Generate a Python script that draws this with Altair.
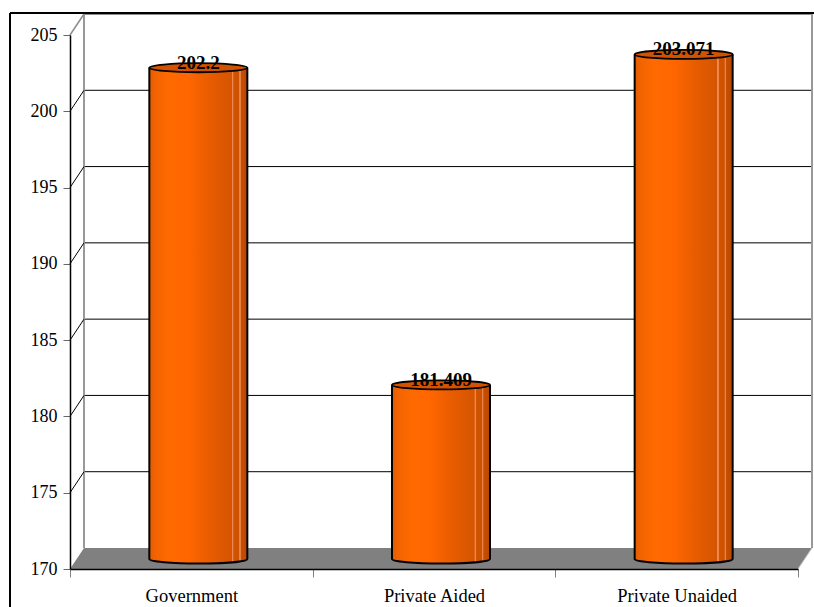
import altair as alt
import pandas as pd

# --- data -------------------------------------------------------------
categories = ["Government", "Private Aided", "Private Unaided"]
values = [202.2, 181.409, 203.071]
labels = ["202.2", "181.409", "203.071"]
y_ticks = [170, 175, 180, 185, 190, 195, 200, 205]

# --- geometry (pixels) ------------------------------------------------
W, H = 728, 534          # front plot area
DX, DY = 14, 21          # depth of the back wall
BAR_W = 98               # cylinder diameter
BX, BY = 7, -10          # cylinders stand half way into the depth
FONT = "Liberation Serif"

bars_df = pd.DataFrame({"category": categories, "value": values, "label": labels})
grid_df = pd.DataFrame({"tick": y_ticks[1:-1]})
edge_df = pd.DataFrame({"tick": [y_ticks[-1]]})
floor_df = pd.DataFrame({
    "px": [0, DX, W, W + DX],
    "top": [H, H - DY, H - DY, H - DY],
    "bot": [H, H, H, H - DY],
})

yscale = alt.Scale(domain=[y_ticks[0], y_ticks[-1]], nice=False, zero=False)
xscale = alt.Scale(paddingInner=0, paddingOuter=0)

y_axis = alt.Axis(
    values=y_ticks, labelFont=FONT, labelFontSize=18, labelColor="black",
    labelPadding=6, tickSize=7, tickColor="#666666", domainColor="black",
    domainWidth=1.5, grid=False, zindex=1, title=None,
)

cyl_fill = alt.Gradient(
    gradient="linear", x1=0, x2=1, y1=0, y2=0,
    stops=[
        alt.GradientStop(offset=0.0, color="#E05C00"),
        alt.GradientStop(offset=0.06, color="#F26300"),
        alt.GradientStop(offset=0.2, color="#FF6A00"),
        alt.GradientStop(offset=0.4, color="#FF6600"),
        alt.GradientStop(offset=0.55, color="#EE5F00"),
        alt.GradientStop(offset=0.7, color="#E05900"),
        alt.GradientStop(offset=0.84, color="#D55500"),
        alt.GradientStop(offset=0.845, color="#EE8A50"),
        alt.GradientStop(offset=0.855, color="#EE8A50"),
        alt.GradientStop(offset=0.86, color="#D25400"),
        alt.GradientStop(offset=0.915, color="#CC5100"),
        alt.GradientStop(offset=0.92, color="#E8844A"),
        alt.GradientStop(offset=0.93, color="#E8844A"),
        alt.GradientStop(offset=0.935, color="#C84F00"),
        alt.GradientStop(offset=1.0, color="#B84700"),
    ],
)

ELLIPSE = "M -1 0 A 1 0.092 0 1 1 1 0 A 1 0.092 0 1 1 -1 0 Z"
HALF_ELLIPSE = "M -1 0 A 1 0.092 0 0 0 1 0"

# --- back wall --------------------------------------------------------
gridlines = alt.Chart(grid_df).mark_rule(
    color="black", strokeWidth=1, yOffset=-DY
).encode(
    y=alt.Y("tick:Q", scale=yscale, axis=y_axis),
    x=alt.value(DX), x2=alt.value(W + DX),
)
wall_top = alt.Chart(edge_df).mark_rule(
    color="#8c8c8c", strokeWidth=2, yOffset=-DY
).encode(
    y=alt.Y("tick:Q", scale=yscale, axis=y_axis),
    x=alt.value(DX), x2=alt.value(W + DX),
)
wall_sides = alt.Chart(edge_df).mark_rule(color="#999999", strokeWidth=2).encode(
    x=alt.value(DX), y=alt.value(-DY), y2=alt.value(H - DY)
) + alt.Chart(edge_df).mark_rule(color="#999999", strokeWidth=2).encode(
    x=alt.value(W + DX), y=alt.value(-DY), y2=alt.value(H - DY)
)

# side wall: slanted lines joining the axis ticks to the back grid
diagonals = alt.Chart(grid_df).mark_rule(
    color="black", strokeWidth=1, y2Offset=-DY
).encode(
    y=alt.Y("tick:Q", scale=yscale, axis=y_axis),
    y2="tick:Q",
    x=alt.value(0), x2=alt.value(DX),
)
diag_top = alt.Chart(edge_df).mark_rule(
    color="#8c8c8c", strokeWidth=1.5, y2Offset=-DY
).encode(
    y=alt.Y("tick:Q", scale=yscale, axis=y_axis),
    y2="tick:Q",
    x=alt.value(0), x2=alt.value(DX),
)

# floor
floor = alt.Chart(floor_df).mark_area(color="#808080", opacity=1).encode(
    x=alt.X("px:Q", scale=None, axis=None),
    y=alt.Y("top:Q", scale=None, axis=None),
    y2="bot:Q",
)
floor_edge = alt.Chart(edge_df).mark_rule(color="#c8c8c8", strokeWidth=1).encode(
    x=alt.value(W), x2=alt.value(W + DX), y=alt.value(H), y2=alt.value(H - DY)
)

# --- cylinders --------------------------------------------------------
xenc = alt.X(
    "category:N", scale=xscale, sort=categories, title=None,
    axis=alt.Axis(
        labelAngle=0, labelFont=FONT, labelFontSize=18.5, labelColor="black",
        labelPadding=9, tickSize=8, tickColor="#808080", tickBand="extent",
        domainColor="black", domainWidth=1.5, zindex=1,
    ),
)
yenc = alt.Y("value:Q", scale=yscale, title=None, axis=y_axis)

base = alt.Chart(bars_df)

bottoms = base.mark_point(
    shape=HALF_ELLIPSE, size=BAR_W ** 2, fill=cyl_fill, fillOpacity=1,
    stroke="black", strokeWidth=2, opacity=1, xOffset=BX, yOffset=BY,
).encode(x=xenc, y=alt.Y(datum=y_ticks[0], scale=yscale, axis=y_axis))

bars = base.mark_bar(
    size=BAR_W, fill=cyl_fill, xOffset=BX, yOffset=BY, y2Offset=BY,
).encode(x=xenc, y=yenc, y2=alt.Y2(datum=y_ticks[0]))

left_side = base.mark_rule(
    color="black", strokeWidth=2, xOffset=BX - BAR_W / 2, yOffset=BY, y2Offset=BY,
).encode(x=xenc, y=yenc, y2=alt.Y2(datum=y_ticks[0]))
right_side = base.mark_rule(
    color="black", strokeWidth=2, xOffset=BX + BAR_W / 2, yOffset=BY, y2Offset=BY,
).encode(x=xenc, y=yenc, y2=alt.Y2(datum=y_ticks[0]))

tops = base.mark_point(
    shape=ELLIPSE, size=BAR_W ** 2, fill="#D25200", fillOpacity=1,
    stroke="black", strokeWidth=1.8, opacity=1, xOffset=BX, yOffset=BY,
).encode(x=xenc, y=yenc)

value_labels = base.mark_text(
    font=FONT, fontSize=19, fontWeight="bold", color="black",
    baseline="alphabetic", align="center", xOffset=BX, yOffset=BY + 1,
).encode(x=xenc, y=yenc, text="label:N")

# outer frame of the chart
frame = alt.Chart(edge_df).mark_rule(color="black", strokeWidth=2).encode(
    x=alt.value(-60), y=alt.value(-22), y2=alt.value(H + 60)
) + alt.Chart(edge_df).mark_rule(color="black", strokeWidth=2).encode(
    x=alt.value(-60), x2=alt.value(W + 40), y=alt.value(-22)
)

chart = alt.layer(
    gridlines, wall_top, wall_sides, diagonals, diag_top, floor, floor_edge,
    bottoms, bars, left_side, right_side, tops, value_labels, frame,
).properties(
    width=W, height=H,
    autosize=alt.AutoSizeParams(type="none"),
    padding={"left": 70, "top": 35, "right": 16, "bottom": 38},
    background="white",
).configure_view(stroke=None)

chart.save("out.html", embed_options={"renderer": "svg", "actions": False})
